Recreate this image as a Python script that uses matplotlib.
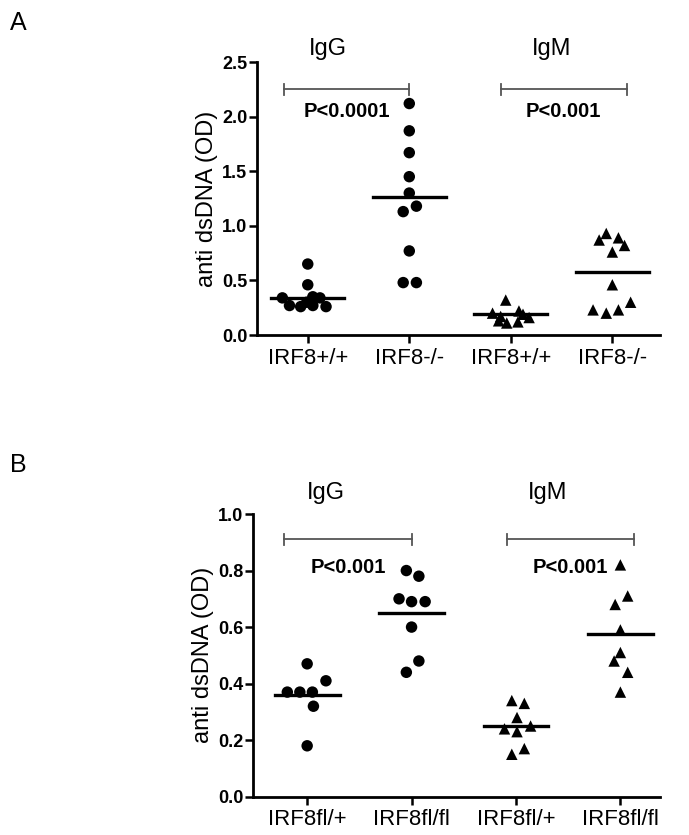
import matplotlib

matplotlib.use("Agg")
import matplotlib.pyplot as plt
import numpy as np

plt.rcParams["font.family"] = ["Liberation Sans", "DejaVu Sans"]

# panel A: IRF8 knockout
a_labels = ["IRF8+/+", "IRF8-/-", "IRF8+/+", "IRF8-/-"]
a_igg_wt = [0.65, 0.46, 0.34, 0.34, 0.35, 0.30, 0.27, 0.26, 0.27, 0.26]
a_igg_wt_dx = [0.0, 0.0, -0.25, 0.12, 0.05, -0.01, -0.18, -0.07, 0.05, 0.18]
a_igg_ko = [2.12, 1.87, 1.67, 1.45, 1.30, 1.18, 1.13, 0.77, 0.48, 0.48]
a_igg_ko_dx = [0.0, 0.0, 0.0, 0.0, 0.0, 0.07, -0.06, 0.0, -0.06, 0.07]
a_igm_wt = [0.32, 0.22, 0.20, 0.19, 0.17, 0.16, 0.13, 0.11, 0.12]
a_igm_wt_dx = [-0.05, 0.08, -0.18, 0.12, -0.1, 0.18, -0.12, -0.04, 0.07]
a_igm_ko = [0.93, 0.87, 0.89, 0.82, 0.76, 0.46, 0.30, 0.23, 0.20, 0.23]
a_igm_ko_dx = [-0.06, -0.13, 0.06, 0.12, 0.0, 0.0, 0.18, -0.19, -0.06, 0.06]
a_means = [0.34, 1.26, 0.19, 0.58]
a_pvals = ["P<0.0001", "P<0.001"]

# panel B: IRF8 floxed
b_labels = ["IRF8fl/+", "IRF8fl/fl", "IRF8fl/+", "IRF8fl/fl"]
b_igg_het = [0.47, 0.41, 0.37, 0.37, 0.37, 0.32, 0.18]
b_igg_het_dx = [0.0, 0.18, -0.19, -0.07, 0.05, 0.06, 0.0]
b_igg_flfl = [0.80, 0.78, 0.70, 0.69, 0.69, 0.60, 0.48, 0.44]
b_igg_flfl_dx = [-0.05, 0.07, -0.12, 0.0, 0.13, 0.0, 0.07, -0.05]
b_igm_het = [0.34, 0.33, 0.28, 0.24, 0.23, 0.25, 0.17, 0.15]
b_igm_het_dx = [-0.04, 0.08, 0.01, -0.11, 0.01, 0.14, 0.08, -0.04]
b_igm_flfl = [0.82, 0.71, 0.68, 0.59, 0.51, 0.48, 0.44, 0.37]
b_igm_flfl_dx = [0.0, 0.07, -0.05, 0.0, 0.0, -0.06, 0.07, 0.0]
b_means = [0.36, 0.65, 0.25, 0.575]
b_pvals = ["P<0.001", "P<0.001"]


def bracket(ax, x0, x1, y, ptxt, ty, cap):
    ax.plot([x0, x1], [y, y], color="#555555", lw=1.3, clip_on=False)
    for xx in (x0, x1):
        ax.plot([xx, xx], [y - cap, y + cap], color="#555555", lw=1.3, clip_on=False)
    ax.text((x0 + x1) / 2, ty, ptxt, ha="center", va="center",
            fontsize=14.5, fontweight="bold")


def panel(ax, groups, offsets, means, labels, ymax, yticks, halfw):
    markers = ["o", "o", "^", "^"]
    for i in range(4):
        xs = i + np.asarray(offsets[i])
        ax.scatter(xs, groups[i], marker=markers[i], s=68, color="black",
                   edgecolors="none", zorder=3, clip_on=False)
        ax.plot([i - halfw, i + halfw], [means[i], means[i]], color="black",
                lw=2.4, zorder=2)
    ax.set_ylim(0, ymax)
    ax.set_yticks(yticks)
    ax.set_yticklabels(["%.1f" % t for t in yticks], fontweight="bold", fontsize=13)
    ax.set_xticks(range(4))
    ax.set_xticklabels(labels, fontsize=16)
    ax.spines["top"].set_visible(False)
    ax.spines["right"].set_visible(False)
    ax.spines["left"].set_linewidth(2)
    ax.spines["bottom"].set_linewidth(2)
    ax.tick_params(axis="both", width=1.8, length=6, direction="out")
    ax.tick_params(axis="y", pad=1)
    ax.tick_params(axis="x", pad=3)
    ax.set_ylabel("anti dsDNA (OD)", fontsize=17, labelpad=3)


fig = plt.figure(figsize=(6.89, 8.35), dpi=100)

# panel A
axa = fig.add_axes([0.373, 0.5988, 0.585, 0.3269])
panel(axa, [a_igg_wt, a_igg_ko, a_igm_wt, a_igm_ko],
      [a_igg_wt_dx, a_igg_ko_dx, a_igm_wt_dx, a_igm_ko_dx],
      a_means, a_labels, 2.5, [0.0, 0.5, 1.0, 1.5, 2.0, 2.5], 0.36)
axa.set_xlim(-0.5, 3.47)
bracket(axa, -0.23, 1.0, 2.25, a_pvals[0], 2.05, 0.05)
bracket(axa, 1.9, 3.14, 2.25, a_pvals[1], 2.05, 0.05)
axa.text(0.2, 2.62, "IgG", ha="center", va="center", fontsize=17)
axa.text(2.4, 2.62, "IgM", ha="center", va="center", fontsize=17)

# panel B
axb = fig.add_axes([0.367, 0.0459, 0.591, 0.3385])
panel(axb, [b_igg_het, b_igg_flfl, b_igm_het, b_igm_flfl],
      [b_igg_het_dx, b_igg_flfl_dx, b_igm_het_dx, b_igm_flfl_dx],
      b_means, b_labels, 1.0, [0.0, 0.2, 0.4, 0.6, 0.8, 1.0], 0.31)
axb.set_xlim(-0.52, 3.38)
bracket(axb, -0.22, 1.0, 0.91, b_pvals[0], 0.81, 0.018)
bracket(axb, 1.91, 3.13, 0.91, b_pvals[1], 0.81, 0.018)
axb.text(0.18, 1.075, "IgG", ha="center", va="center", fontsize=17)
axb.text(2.3, 1.075, "IgM", ha="center", va="center", fontsize=17)

fig.text(0.014, 0.972, "A", fontsize=18, ha="left", va="center")
fig.text(0.014, 0.443, "B", fontsize=18, ha="left", va="center")

fig.savefig("out.png", dpi=100)
